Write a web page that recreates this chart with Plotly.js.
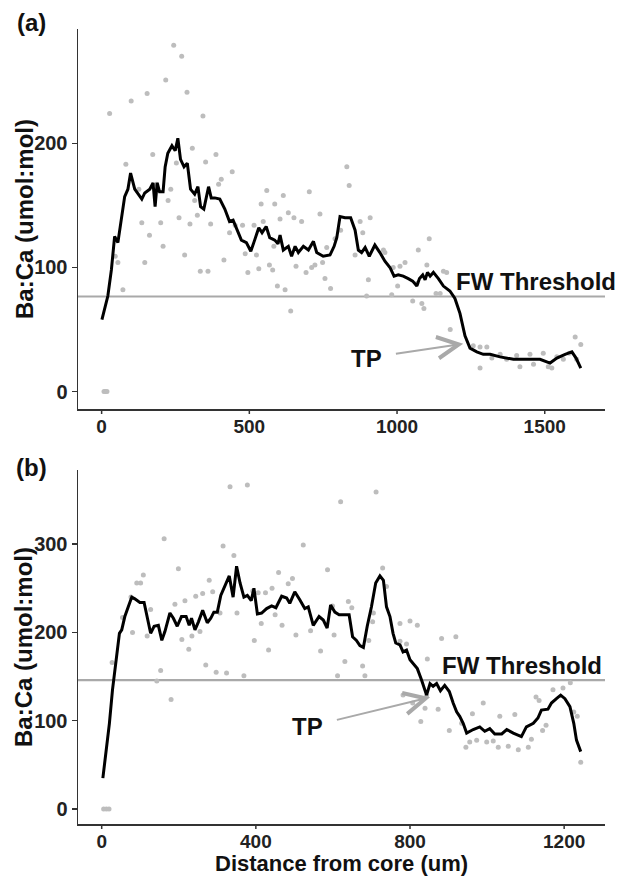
<!DOCTYPE html>
<html>
<head>
<meta charset="utf-8">
<script src="https://cdn.plot.ly/plotly-3.0.1.min.js"></script>
<style>html,body{margin:0;padding:0;background:#fff}#chart{width:632px;height:876px}</style>
</head>
<body>
<div id="chart"></div>
<script>
// ---------- Panel (a) ----------
const aLineX = [1,21,33,44,55,66,78,89,98,112,123,136,146,163,174,181,188,196,208,215,224,238,249,258,267,279,290,301,315,326,335,346,362,371,383,400,417,433,445,462,473,490,505,518,532,543,557,569,586,597,604,615,632,643,655,666,683,700,717,728,750,773,787,796,807,824,843,858,869,880,892,906,925,942,959,976,990,1004,1021,1038,1053,1067,1076,1087,1095,1103,1112,1123,1140,1157,1179,1196,1213,1230,1247,1270,1292,1315,1349,1394,1439,1484,1518,1541,1569,1592,1606,1622];
const aLineY = [58,77,98,125,120,136,157,163,176,163,159,155,160,163,168,149,168,161,161,181,192,198,194,204,187,181,184,163,159,165,149,147,165,156,156,155,147,137,138,129,122,120,113,122,132,128,133,124,122,119,126,114,117,109,117,112,117,114,121,112,109,110,117,124,141,140,140,130,114,112,116,109,118,112,105,100,93,94,93,91,89,85,91,94,90,96,93,96,91,85,81,75,63,45,35,32,30,30,28,26,26,26,23,27,30,32,27,19];
const aPtsX = [8,13,18,27,244,271,217,154,100,289,343,82,173,307,387,352,442,405,396,559,540,586,315,225,234,126,186,136,200,262,299,324,369,162,433,452,477,516,547,208,281,146,55,46,334,360,414,486,524,495,532,568,579,595,72,253,
  830,838,703,615,632,651,677,604,739,875,909,809,884,1109,1072,583,658,692,711,722,748,762,790,858,954,959,987,1010,1027,1101,756,903,775,621,1002,1067,1157,1168,1132,1146,640,897,1053,1084,1091,1180,982,
  1258,1281,1304,1281,1321,1349,1371,1405,1416,1450,1462,1495,1512,1524,1541,1563,1583,1603,1622,1608];
const aPtsY = [0,0,0,224,279,270,251,240,234,241,222,183,191,196,191,185,177,171,167,162,151,151,154,154,163,163,167,136,136,140,135,142,135,126,128,134,134,134,137,117,110,104,104,109,97,97,106,111,110,96,99,102,98,85,82,184,
  181,166,161,158,144,140,137,139,143,137,140,130,128,123,114,117,101,96,100,102,104,116,123,110,114,112,100,101,104,102,91,90,83,82,85,87,97,96,79,79,65,77,73,71,67,50,78,
  37,36,36,19,27,30,26,29,20,30,22,31,20,19,28,26,31,44,38,26];
const aThreshold = 76.6;
const aTicks = [0,500,1000,1500];
const aYTicks = [0,100,200];
const aTP = {x: 1224, y: 38.5, textX: 898, textY: 27};
const aFW = {x: 1471, y: 88.5};

// ---------- Panel (b) ----------
const bLineX = [3,11,20,28,37,46,52,60,69,78,86,99,110,118,127,136,147,156,164,177,186,196,207,219,227,233,242,251,262,274,283,291,300,309,320,331,341,350,359,369,378,388,395,404,415,428,441,452,467,480,488,501,514,527,536,549,564,575,585,594,605,616,631,642,651,661,670,679,689,700,711,722,731,739,748,756,763,774,782,791,800,810,819,830,843,852,860,869,879,890,902,912,921,929,938,947,964,981,994,1007,1020,1038,1051,1068,1089,1102,1120,1132,1141,1158,1167,1180,1191,1202,1215,1225,1232,1243];
const bLineY = [35,63,97,135,165,199,203,218,229,240,238,234,234,218,199,207,208,191,201,222,216,207,218,218,208,216,203,212,225,211,216,223,223,242,254,264,240,275,256,240,242,236,250,221,222,227,230,228,241,239,233,246,237,227,229,208,218,214,205,231,223,220,220,220,195,191,185,183,207,229,256,264,259,229,218,199,188,186,178,180,169,163,159,146,129,142,139,142,134,140,133,120,110,105,97,86,90,93,88,91,85,85,90,86,82,93,97,103,112,113,120,125,129,125,116,97,78,65];
const bPtsX = [5,12,19,27,54,76,80,91,101,108,118,127,143,153,162,180,190,199,208,216,226,234,244,255,262,270,279,288,297,307,315,324,333,343,351,369,378,392,396,406,414,425,433,442,450,459,468,484,
  495,504,523,542,568,586,599,603,612,620,631,640,649,677,683,693,703,705,712,729,739,774,774,782,791,800,807,819,828,839,843,845,873,882,902,919,934,945,955,962,973,990,999,
  1016,1029,1033,1055,1072,1081,1107,1115,1127,1135,1144,1153,1171,1197,1216,1225,1234,1243];
const bPtsY = [0,0,0,166,217,240,200,256,256,265,196,226,145,157,306,124,232,272,192,236,181,196,241,201,244,163,259,246,155,222,298,154,365,287,222,151,367,247,191,245,210,245,180,250,220,268,208,255,
  261,197,299,202,179,271,230,197,151,348,167,235,228,162,151,191,212,222,359,273,252,210,190,129,187,213,120,208,99,114,128,170,113,193,89,195,97,70,76,108,78,120,76,
  77,70,105,71,107,67,70,79,127,123,89,95,135,137,143,110,105,53];
const bThreshold = 146;
const bTicks = [0,400,800,1200];
const bYTicks = [0,100,200,300];
const bTP = {x: 852, y: 126.5, textX: 535, textY: 93};
const bFW = {x: 1090, y: 163};

const yTitle = 'Ba:Ca (umol:mol)';
const xTitle = 'Distance from core (um)';

const FONT = "'Liberation Sans', Arial, sans-serif";
const ptColor = '#bdbdbd';
const lineColor = '#000000';
const refColor = '#a9a9a9';
const axisColor = '#333';

const traces = [
  {x: aPtsX, y: aPtsY, xaxis: 'x', yaxis: 'y', type: 'scatter', mode: 'markers',
   marker: {color: ptColor, size: 5}, hoverinfo: 'skip'},
  {x: aLineX, y: aLineY, xaxis: 'x', yaxis: 'y', type: 'scatter', mode: 'lines',
   line: {color: lineColor, width: 3}},
  {x: bPtsX, y: bPtsY, xaxis: 'x2', yaxis: 'y2', type: 'scatter', mode: 'markers',
   marker: {color: ptColor, size: 5}, hoverinfo: 'skip'},
  {x: bLineX, y: bLineY, xaxis: 'x2', yaxis: 'y2', type: 'scatter', mode: 'lines',
   line: {color: lineColor, width: 3}}
];

const tickFont = {family: FONT, size: 20, color: '#222', weight: 'bold'};
const xTickFont = {family: FONT, size: 19, color: '#222', weight: 'bold'};
const titleFont = {family: FONT, size: 22, color: '#111', weight: 'bold'};
const yTitleFont = {family: FONT, size: 24, color: '#111', weight: 'bold'};
const labelFont = {family: FONT, size: 24, color: '#111', weight: 'bold'};
const axBase = {showgrid: false, zeroline: false, showline: true, linecolor: axisColor, linewidth: 1.5,
  ticks: 'outside', ticklen: 5, tickwidth: 1.5, tickcolor: axisColor, tickfont: tickFont, tickmode: 'array'};

// x-axis tick marks drawn as short pixel-sized segments (labels sit closer to the axis, as in the reference)
function xTickMarks(vals, xref, yref) {
  return vals.map(v => ({type: 'line', xref: xref, yref: yref + ' domain', x0: v, x1: v,
    ysizemode: 'pixel', yanchor: 0, y0: 0, y1: -5, line: {color: axisColor, width: 1.5}}));
}

const layout = {
  width: 632, height: 876,
  margin: {l: 78, r: 27, t: 29, b: 52},
  paper_bgcolor: '#fff', plot_bgcolor: '#fff',
  showlegend: false,
  font: {family: FONT},
  xaxis: Object.assign({}, axBase, {domain: [0,1], anchor: 'y', range: [-80,1704], tickvals: aTicks, ticktext: aTicks.map(String), ticks: '', tickfont: xTickFont}),
  yaxis: Object.assign({}, axBase, {domain: [0.522,1], anchor: 'x', range: [-14,292], tickvals: aYTicks, ticktext: aYTicks.map(String)}),
  xaxis2: Object.assign({}, axBase, {domain: [0,1], anchor: 'y2', range: [-61.5,1306], tickvals: bTicks, ticktext: bTicks.map(String), ticks: '', tickfont: xTickFont}),
  yaxis2: Object.assign({}, axBase, {domain: [0,0.4453], anchor: 'x2', range: [-17,384], tickvals: bYTicks, ticktext: bYTicks.map(String)}),
  shapes: [
    {type: 'line', xref: 'x domain', yref: 'y', x0: 0, x1: 1, y0: aThreshold, y1: aThreshold, line: {color: refColor, width: 2.2}, layer: 'below'},
    {type: 'line', xref: 'x2 domain', yref: 'y2', x0: 0, x1: 1, y0: bThreshold, y1: bThreshold, line: {color: refColor, width: 2.2}, layer: 'below'}
  ].concat(xTickMarks(aTicks, 'x', 'y'), xTickMarks(bTicks, 'x2', 'y2')),
  annotations: [
    {xref: 'paper', yref: 'y domain', x: -0.1025, y: 0.5, text: yTitle, textangle: -90, showarrow: false,
     xanchor: 'center', yanchor: 'middle', font: yTitleFont},
    {xref: 'paper', yref: 'y2 domain', x: -0.1025, y: 0.5, text: yTitle, textangle: -90, showarrow: false,
     xanchor: 'center', yanchor: 'middle', font: yTitleFont},
    {xref: 'x2 domain', yref: 'paper', x: 0.5, y: -0.0497, text: xTitle, showarrow: false,
     xanchor: 'center', yanchor: 'middle', font: titleFont},
    {xref: 'paper', yref: 'paper', x: -0.089, y: 1.0088, text: '(a)', showarrow: false, xanchor: 'center', yanchor: 'middle', font: labelFont},
    {xref: 'paper', yref: 'paper', x: -0.089, y: 0.449, text: '(b)', showarrow: false, xanchor: 'center', yanchor: 'middle', font: labelFont},
    {xref: 'x', yref: 'y', x: aFW.x, y: aFW.y, text: 'FW Threshold', showarrow: false, xanchor: 'center', yanchor: 'middle', font: labelFont},
    {xref: 'x2', yref: 'y2', x: bFW.x, y: bFW.y, text: 'FW Threshold', showarrow: false, xanchor: 'center', yanchor: 'middle', font: labelFont},
    {xref: 'x', yref: 'y', axref: 'x', ayref: 'y', x: aTP.x, y: aTP.y, ax: aTP.textX, ay: aTP.textY, text: 'TP',
     showarrow: true, arrowhead: 5, arrowsize: 2.1, arrowwidth: 2, arrowcolor: refColor, borderpad: 13, font: labelFont},
    {xref: 'x2', yref: 'y2', axref: 'x2', ayref: 'y2', x: bTP.x, y: bTP.y, ax: bTP.textX, ay: bTP.textY, text: 'TP',
     showarrow: true, arrowhead: 5, arrowsize: 2.1, arrowwidth: 2, arrowcolor: refColor, borderpad: 13, font: labelFont}
  ]
};

Plotly.newPlot('chart', traces, layout, {staticPlot: true, displayModeBar: false});
</script>
</body>
</html>
